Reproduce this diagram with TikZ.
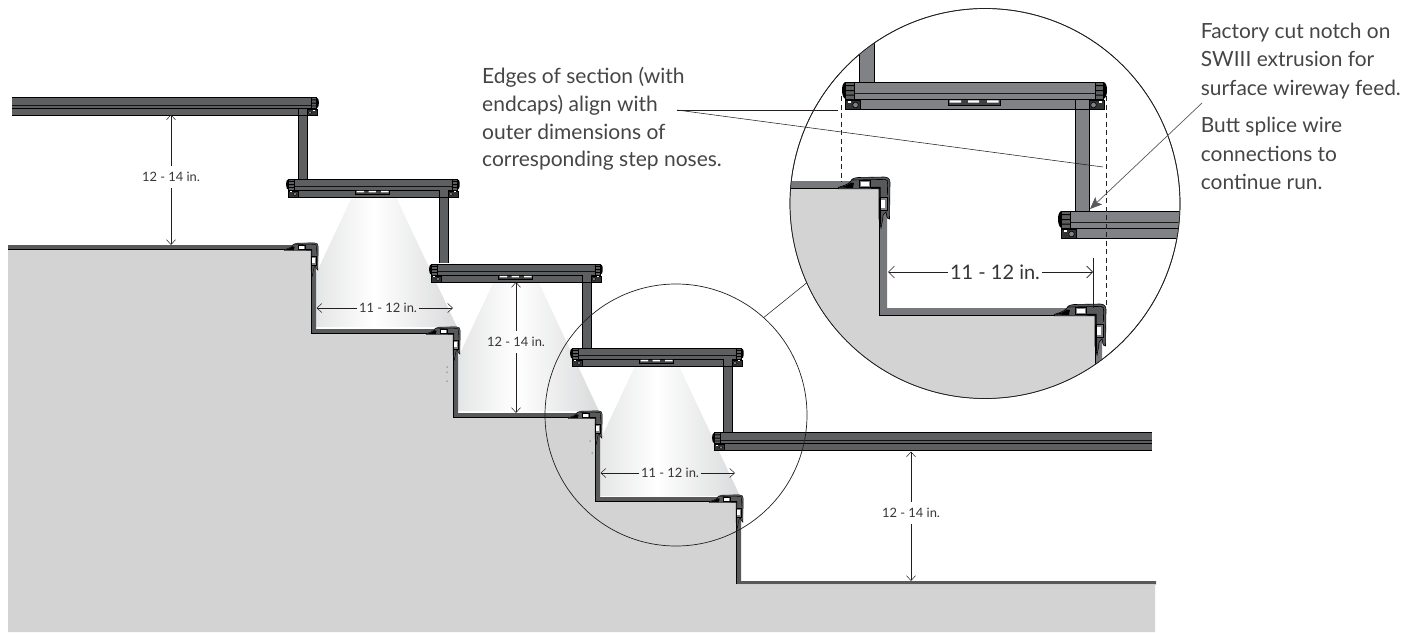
\documentclass[tikz,border=0pt]{standalone}
\usepackage{fontspec}
\setmainfont{Lato}
\usetikzlibrary{arrows.meta,calc}
\definecolor{ink}{HTML}{231F20}
\definecolor{txt}{HTML}{454547}
\definecolor{groundc}{HTML}{D3D3D4}
\definecolor{barS}{HTML}{5E5F61}
\definecolor{barB}{HTML}{808285}
\definecolor{bandS}{HTML}{58595B}
\definecolor{bandB}{HTML}{77787B}
\definecolor{noseC}{HTML}{58595B}
\definecolor{coneC}{HTML}{D9DADB}
\def\barlw{0.35pt}
\tikzset{
  dim/.style={draw=ink,line width=0.6pt,-{Straight Barb[length=5pt,width=9pt,line width=0.5pt]}},
  dimbig/.style={draw=ink,line width=0.6pt,-{Straight Barb[length=6pt,width=12pt,line width=0.6pt]}},
  lab/.style={font=\fontsize{12.9}{14}\selectfont,text=ink!90,inner xsep=1.5pt,inner ysep=0pt,minimum height=22pt},
  labbig/.style={font=\fontsize{20}{22}\selectfont,text=ink!90,inner xsep=2pt,inner ysep=0pt,minimum height=26pt},
  note/.style={font=\fontsize{21}{27.6}\selectfont,text=txt,align=left,anchor=north west,inner sep=0pt},
  noter/.style={note,font=\fontsize{20.9}{28.5}\selectfont},
  leader/.style={draw=ink,line width=0.55pt},
  ring/.style={draw=ink,line width=0.7pt,circle,inner sep=0pt},
  part/.style={draw=black,line width=\barlw},
}
% bar sections, in the units of the enlarged detail
\newcommand\barpart[3]{%
  \fill[#3] (#1,0) rectangle (#2,27);
  \draw[part] (#1,0) -- (#2,0);
  \draw[part] (#1,27) -- (#2,27);
  \draw[black,line width=\barlw,opacity=.8] (#1,11.5) -- (#2,11.5);
  \draw[part] (#1,17) -- (#2,17);
}
\newcommand\capleft{%
  \fill[black] (-8,0) .. controls (-10.5,0) and (-12,3) .. (-12,8) .. controls (-12,13) and (-10.5,17) .. (-8,17) -- cycle;
  \filldraw[fill=barS,draw=black,line width=\barlw] (-8.5,0) rectangle (0,17);
  \fill[black] (-8.5,3) rectangle (0,4.2) (-8.5,8) rectangle (0,9.2) (-8.5,12.5) rectangle (0,13.7);
  \filldraw[fill=black!80,draw=black,line width=\barlw] (-9,18) rectangle (6,27);
  \filldraw[fill=barB,draw=black,line width=\barlw] (1.5,23) circle (2.8);
  \fill[white] (-6.5,18.5) rectangle (-3.5,20.5);
}
\newcommand\fixture[4]{% x y scale colour
  \begin{scope}[shift={(#1,#2)},scale=#3]
    \fill[#4] (221,17) rectangle (235,129);
    \draw[part] (221,17) -- (221,129) (235,17) -- (235,129);
    \barpart{0}{241}{#4}
    \capleft
    \begin{scope}[xshift=241pt,xscale=-1]\capleft\end{scope}
    \fill[#4] (221.3,17.5) rectangle (234.7,26.8);
    \draw[part] (221,17) -- (221,27);
    \draw[part] (235,17) -- (235,27);
    \filldraw[fill=black!75,draw=black,line width=\barlw] (94,17.5) rectangle (146,23);
    \fill[white] (95.5,18.3) rectangle (107,20.6) (114,18.3) rectangle (125,20.6) (133,18.3) rectangle (144.5,20.6);
  \end{scope}
}
\newcommand\nose[3]{% x y scale
  \begin{scope}[shift={(#1,#2)},scale=#3]
    \filldraw[fill=noseC,draw=black,line width=\barlw]
      (-40.7,-0.6) .. controls (-35,-2.5) and (-31,-3.5) .. (-29,-6) .. controls (-28,-8.5) and (-26,-10) .. (-21,-10.5)
      -- (5,-11) .. controls (9,-11) and (11,-9) .. (11,-5.5)
      -- (10.5,31) .. controls (9,31) and (8,30) .. (7.7,28)
      -- (7,24) .. controls (5,25) and (3.5,27) .. (3.7,31)
      -- (2,40) -- (0,31) -- (0,0.8) -- (-40.7,0.8) -- cycle;
    \fill[black] (-40,-0.5) .. controls (-34,-2) and (-30,-3) .. (-28.5,-5.5) -- (-25,-5) -- (-26,-1) -- (-26,0) -- cycle;
    \draw[black,line width=\barlw] (-28,-8) -- (6,-8.6) .. controls (8.4,-8.6) and (8.8,-7) .. (8.6,-4) -- (8.4,7);
    \fill[black] (-8,-1.2) -- (-1.5,-1.2) -- (1.6,-1.2) -- (1.6,10) -- (0.4,10) -- (0.4,0.5) -- (-8,0.5) -- cycle;
    \fill[black] (0,10) rectangle (1.8,36);
    \filldraw[fill=barB,draw=black,line width=\barlw] (-20,-8) rectangle (-8.5,-0.8);
    \fill[white] (-18.2,-6.4) rectangle (-10.5,-2.2);
    \filldraw[fill=barB,draw=black,line width=\barlw] (1,9.5) rectangle (8.2,22.5);
    \fill[white] (1.8,11.6) rectangle (6,20);
  \end{scope}
}
\newcommand\cone[2]{% x y of the lens's left end
  \shade[left color=coneC,right color=coneC,middle color=white]
    (#1,#2) -- ++(44,0) -- ++(61,130) -- ++(-44-61-61,0) -- cycle;
}
\begin{document}
\begin{tikzpicture}[x=1pt,y=-1pt]
\useasboundingbox (0,0) rectangle (1416,632);
% light cones
\cone{352}{197}
\cone{494}{281}
\cone{635}{366}
% ground
\fill[bandS] (8,245) -- (316,245) -- (316,329) -- (458,329) -- (458,413) -- (600,413) -- (600,497) -- (741,497) -- (741,581) -- (1156,581) -- (1156,584.3) -- (8,584.3) -- cycle;
\fill[groundc] (8,250) -- (311,250) -- (311,334) -- (453,334) -- (453,418) -- (595,418) -- (595,502) -- (736,502) -- (736,584.3) -- (1155,584.3) -- (1155,632) -- (8,632) -- cycle;
\draw[black,line width=0.9pt] (8,249.6) -- (311.4,249.6) -- (311.4,333.6) -- (453.4,333.6) -- (453.4,417.6) -- (595.4,417.6) -- (595.4,501.6) -- (736.4,501.6) -- (736.4,584.3);
% specks
\fill[black] (447,367) circle (0.5) (447,372) circle (0.5) (447,381) circle (0.5) (590,441) circle (0.5) (592,453) circle (0.5);
% step noses
\nose{311}{250}{0.655}
\nose{453}{334}{0.655}
\nose{595}{418}{0.655}
\nose{736}{502}{0.655}
% fixtures
\fixture{294}{179}{0.655}{barS}
\fixture{437}{264}{0.655}{barS}
\fixture{578}{348}{0.655}{barS}
% top run
\begin{scope}[shift={(311,97.5)},scale=0.655]
  \fill[barS] (-20,17) rectangle (-6,125);
  \draw[part] (-20,17) -- (-20,125) (-6,17) -- (-6,125);
  \barpart{-457}{0}{barS}
  \fill[barS] (-19.7,17.5) rectangle (-6.3,26.8);
  \draw[part] (-20,17) -- (-20,27) (-6,17) -- (-6,27);
  \begin{scope}[xscale=-1]\capleft\end{scope}
\end{scope}
% bottom run
\begin{scope}[shift={(720,432.5)},scale=0.655]
  \barpart{0}{660}{barS}
  \capleft
\end{scope}
% dimensions
\coordinate (a1t) at (171,114.5);
\coordinate (a1b) at (171,245);
\node[lab] (d1) at (171,177) {12 - 14 in.};
\draw[dim] (d1) -- (a1t);
\draw[dim] (d1) -- (a1b);
\coordinate (a2l) at (316.5,308);
\coordinate (a2r) at (453,308);
\node[lab] (d2) at (388,308) {11 - 12 in.};
\draw[dim] (d2) -- (a2l);
\draw[dim] (d2) -- (a2r);
\coordinate (a3t) at (516,282);
\coordinate (a3b) at (516,413);
\node[lab] (d3) at (516,342) {12 - 14 in.};
\draw[dim] (d3) -- (a3t);
\draw[dim] (d3) -- (a3b);
\coordinate (a4l) at (600.5,473);
\coordinate (a4r) at (735,473);
\node[lab] (d4) at (670,473) {11 - 12 in.};
\draw[dim] (d4) -- (a4l);
\draw[dim] (d4) -- (a4r);
\coordinate (a5t) at (911,451.5);
\coordinate (a5b) at (911,581);
\node[lab] (d5) at (911,513) {12 - 14 in.};
\draw[dim] (d5) -- (a5t);
\draw[dim] (d5) -- (a5b);
% small ring
\node[ring,minimum size=262pt] (small) at (676,415) {};
% enlarged detail
\node[ring,minimum size=390pt,fill=white] (big) at (985,203.5) {};
\draw[leader] (small.48.8) -- (big.204.7);
\begin{scope}
  \def\barlw{0.6pt}
  \clip (985,203.5) circle (194.6);
  % ground
  \fill[bandB] (780,181) -- (887,181) -- (887,308) -- (1102,308) -- (1102,420) -- (780,420) -- cycle;
  \fill[groundc] (780,188) -- (879,188) -- (879,315) -- (1095,315) -- (1095,420) -- (780,420) -- cycle;
  \draw[black,line width=1pt] (780,188) -- (879,188) -- (879,315) -- (1095,315) -- (1095,420);
  \nose{879}{188}{1}
  \nose{1095}{315}{1}
  % fixture above
  \fill[barB] (859,0) rectangle (874,82);
  \draw[part] (859,0) -- (859,82);
  \draw[part] (874,0) -- (874,82);
  \fixture{854}{82}{1}{barB}
  % lower run
  \begin{scope}[shift={(1070,211)}]
    \barpart{0}{200}{barB}
    \capleft
  \end{scope}
  \draw[ink,line width=0.7pt,dash pattern=on 5pt off 3.5pt] (841,96) -- (841,182);
  \draw[ink,line width=0.7pt,dash pattern=on 5pt off 3.5pt] (1106,96) -- (1106,305);
\end{scope}
\node[ring,minimum size=390pt] (bigo) at (985,203.5) {};
% big dimension
\coordinate (b1l) at (888,272);
\coordinate (b1r) at (1093,272);
\coordinate (b1u) at (1093,258);
\coordinate (b1d) at (1093,308);
\draw[leader] (b1u) -- (b1d);
\node[labbig] (b1) at (995,272) {11 - 12 in.};
\draw[dimbig] (b1) -- (b1l);
\draw[dimbig] (b1) -- (b1r);
% notes
\node[note] (n1) at (482,67.5) {Edges of section (with\\endcaps) align with\\outer dimensions of\\corresponding step noses.};
\coordinate (l0) at (677,110);
\coordinate (l1) at (838,110);
\coordinate (l2) at (1103,167);
\draw[leader] (l0) -- (l1);
\draw[leader] (l0) -- (l2);
\node[noter] (n2) at (1200.7,22.5) {Factory cut notch on\\SWIII extrusion for\\surface wireway feed.};
\node[noter] (n3) at (1200.7,117) {Butt splice wire\\connections to\\continue run.};
\coordinate (arrS) at (1202,103);
\coordinate (arrE) at (1090,209);
\draw[draw=bandS,line width=0.7pt,-{Stealth[length=12pt,width=10pt,inset=2.5pt]}] (arrS) -- (arrE);
\end{tikzpicture}
\end{document}
